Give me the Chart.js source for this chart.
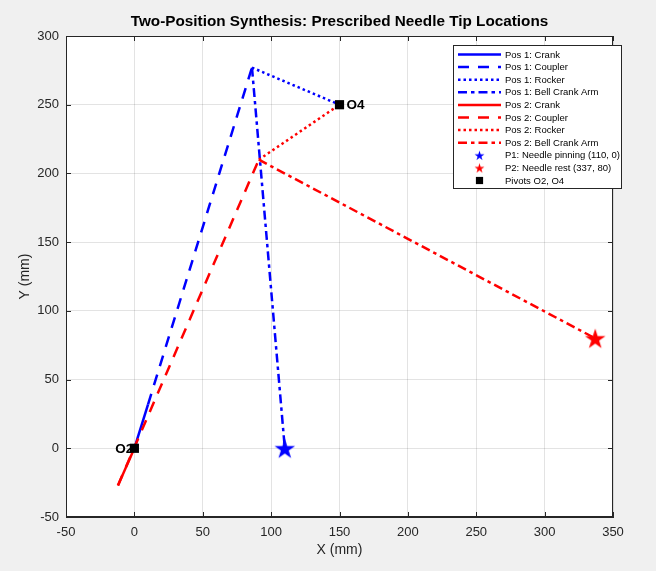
<!DOCTYPE html>
<html>
<head>
<meta charset="utf-8">
<script src="https://cdn.jsdelivr.net/npm/chart.js@4"></script>
<style>
  html, body { margin: 0; padding: 0; background: #f0f0f0; }
</style>
</head>
<body>
<canvas id="linkage" width="656" height="571"></canvas>
<script>
// tick values
const xTicks = [-50, 0, 50, 100, 150, 200, 250, 300, 350];
const yTicks = [-50, 0, 50, 100, 150, 200, 250, 300];

// pivots
const pivotO2 = [0, 0];
const pivotO4 = [150, 250];

// position 1 joints
const crankEnd1 = [10, 32];
const rockerEnd1 = [86, 277];
const needleP1 = [110, 0];

// position 2 joints
const crankEnd2 = [-12, -27];
const rockerEnd2 = [91, 210];
const needleP2 = [337, 80];

const legendLabels = [
  'Pos 1: Crank', 'Pos 1: Coupler', 'Pos 1: Rocker', 'Pos 1: Bell Crank Arm',
  'Pos 2: Crank', 'Pos 2: Coupler', 'Pos 2: Rocker', 'Pos 2: Bell Crank Arm',
  'P1: Needle pinning (110, 0)', 'P2: Needle rest (337, 80)', 'Pivots O2, O4'
];

const BLUE = '#0000ff';
const RED = '#ff0000';
const FONT = '"Liberation Sans", Arial, Helvetica, sans-serif';
const dashes = { solid: [], dashed: [11, 9], dotted: [2.5, 3], dashdot: [9, 4, 3.5, 4] };

function pt(p) { return { x: p[0], y: p[1] }; }

function starImage(color, r) {
  const c = document.createElement('canvas');
  const s = Math.ceil(2 * r + 2);
  c.width = s; c.height = s;
  const g = c.getContext('2d');
  g.fillStyle = color;
  g.beginPath();
  for (let k = 0; k < 10; k++) {
    const rad = k % 2 ? r * 0.382 : r;
    const a = -Math.PI / 2 + k * Math.PI / 5;
    g.lineTo(s / 2 + rad * Math.cos(a), s / 2 + rad * Math.sin(a) + r * 0.1);
  }
  g.closePath();
  g.fill();
  return c;
}

function seg(label, a, b, color, dash) {
  return {
    label: label, data: [pt(a), pt(b)], showLine: true,
    borderColor: color, borderWidth: 2.5, borderDash: dashes[dash],
    pointRadius: 0, pointHoverRadius: 0
  };
}

const datasets = [
  seg(legendLabels[0], pivotO2, crankEnd1, BLUE, 'solid'),
  seg(legendLabels[1], crankEnd1, rockerEnd1, BLUE, 'dashed'),
  seg(legendLabels[2], rockerEnd1, pivotO4, BLUE, 'dotted'),
  seg(legendLabels[3], rockerEnd1, needleP1, BLUE, 'dashdot'),
  seg(legendLabels[4], pivotO2, crankEnd2, RED, 'solid'),
  seg(legendLabels[5], crankEnd2, rockerEnd2, RED, 'dashed'),
  seg(legendLabels[6], rockerEnd2, pivotO4, RED, 'dotted'),
  seg(legendLabels[7], rockerEnd2, needleP2, RED, 'dashdot'),
  { label: legendLabels[8], data: [pt(needleP1)], pointStyle: starImage(BLUE, 10.8), pointRadius: 11, markerColor: BLUE, marker: 'star' },
  { label: legendLabels[9], data: [pt(needleP2)], pointStyle: starImage(RED, 10.8), pointRadius: 11, markerColor: RED, marker: 'star' },
  { label: legendLabels[10], data: [pt(pivotO2), pt(pivotO4)], pointStyle: 'rect', pointRadius: 6.5,
    backgroundColor: '#000', borderColor: '#000', borderWidth: 0, markerColor: '#000', marker: 'square' }
];
datasets.forEach((d, i) => { d.order = -i; });

const figurePlugin = {
  id: 'figure',
  beforeDraw(chart) {
    const ctx = chart.ctx, a = chart.chartArea;
    ctx.save();
    ctx.fillStyle = '#f0f0f0';
    ctx.fillRect(0, 0, chart.width, chart.height);
    ctx.fillStyle = '#ffffff';
    ctx.fillRect(a.left, a.top, a.right - a.left, a.bottom - a.top);
    ctx.restore();
  },
  beforeDatasetsDraw(chart) {
    const ctx = chart.ctx, sx = chart.scales.x, sy = chart.scales.y;
    ctx.save();
    ctx.fillStyle = '#000';
    ctx.font = 'bold 13.5px ' + FONT;
    ctx.textBaseline = 'middle';
    ctx.textAlign = 'right';
    ctx.fillText('O2', sx.getPixelForValue(pivotO2[0]) - 1, sy.getPixelForValue(pivotO2[1]) + 1);
    ctx.textAlign = 'left';
    ctx.fillText('O4', sx.getPixelForValue(pivotO4[0]) + 7, sy.getPixelForValue(pivotO4[1]) + 1);
    ctx.restore();
  },
  afterDraw(chart) {
    const ctx = chart.ctx, a = chart.chartArea, sx = chart.scales.x, sy = chart.scales.y;
    ctx.save();
    // box + inward ticks
    ctx.strokeStyle = '#262626';
    ctx.lineWidth = 1;
    ctx.strokeRect(a.left + 0.5, a.top + 0.5, a.right - a.left - 1, a.bottom - a.top - 1);
    ctx.beginPath();
    xTicks.forEach(v => {
      const x = Math.round(sx.getPixelForValue(v)) + 0.5;
      ctx.moveTo(x, a.bottom); ctx.lineTo(x, a.bottom - 5);
      ctx.moveTo(x, a.top); ctx.lineTo(x, a.top + 5);
    });
    yTicks.forEach(v => {
      const y = Math.round(sy.getPixelForValue(v)) + 0.5;
      ctx.moveTo(a.left, y); ctx.lineTo(a.left + 5, y);
      ctx.moveTo(a.right, y); ctx.lineTo(a.right - 5, y);
    });
    ctx.stroke();

    // titles
    ctx.fillStyle = '#000';
    ctx.textAlign = 'center';
    ctx.textBaseline = 'middle';
    ctx.font = 'bold 15.3px ' + FONT;
    ctx.fillText('Two-Position Synthesis: Prescribed Needle Tip Locations', (a.left + a.right) / 2, 22);
    ctx.fillStyle = '#262626';
    ctx.font = '14px ' + FONT;
    ctx.fillText('X (mm)', (a.left + a.right) / 2, 550);
    ctx.save();
    ctx.translate(25, (a.top + a.bottom) / 2);
    ctx.rotate(-Math.PI / 2);
    ctx.fillText('Y (mm)', 0, 0);
    ctx.restore();

    // legend
    const lx = 453, ly = 45, lw = 168, lh = 143;
    ctx.fillStyle = '#fff';
    ctx.fillRect(lx, ly, lw, lh);
    ctx.strokeStyle = '#262626';
    ctx.lineWidth = 1;
    ctx.strokeRect(lx + 0.5, ly + 0.5, lw, lh);
    ctx.font = '9.5px ' + FONT;
    ctx.textAlign = 'left';
    chart.data.datasets.forEach((d, i) => {
      const y = ly + 9.5 + i * 12.6;
      if (d.showLine) {
        ctx.strokeStyle = d.borderColor;
        ctx.lineWidth = 2.5;
        ctx.setLineDash(d.borderDash);
        ctx.beginPath();
        ctx.moveTo(lx + 5, y); ctx.lineTo(lx + 48, y);
        ctx.stroke();
        ctx.setLineDash([]);
      } else if (d.marker === 'star') {
        const img = starImage(d.markerColor, 5.2);
        ctx.drawImage(img, lx + 26.5 - img.width / 2, y - img.height / 2);
      } else {
        ctx.fillStyle = d.markerColor;
        ctx.fillRect(lx + 26.5 - 3.6, y - 3.6, 7.2, 7.2);
      }
      ctx.fillStyle = '#000';
      ctx.fillText(d.label, lx + 52, y + 0.5);
    });
    ctx.restore();
  }
};

new Chart(document.getElementById('linkage'), {
  type: 'scatter',
  data: { datasets: datasets },
  options: {
    responsive: false,
    animation: false,
    devicePixelRatio: 1,
    layout: { padding: { left: 0, top: 36, right: 43, bottom: 0 } },
    plugins: { legend: { display: false }, tooltip: { enabled: false } },
    scales: {
      x: {
        type: 'linear', min: -50, max: 350,
        afterBuildTicks: s => { s.ticks = xTicks.map(v => ({ value: v })); },
        afterFit: s => { s.height = 54; },
        grid: { color: 'rgba(38,38,38,0.13)', drawTicks: false },
        border: { color: '#262626' },
        ticks: { color: '#262626', padding: 8, font: { family: FONT, size: 13 } }
      },
      y: {
        type: 'linear', min: -50, max: 300,
        afterBuildTicks: s => { s.ticks = yTicks.map(v => ({ value: v })); },
        afterFit: s => { s.width = 66; },
        grid: { color: 'rgba(38,38,38,0.13)', drawTicks: false },
        border: { color: '#262626' },
        ticks: { color: '#262626', padding: 7, font: { family: FONT, size: 13 } }
      }
    }
  },
  plugins: [figurePlugin]
});
</script>
</body>
</html>
